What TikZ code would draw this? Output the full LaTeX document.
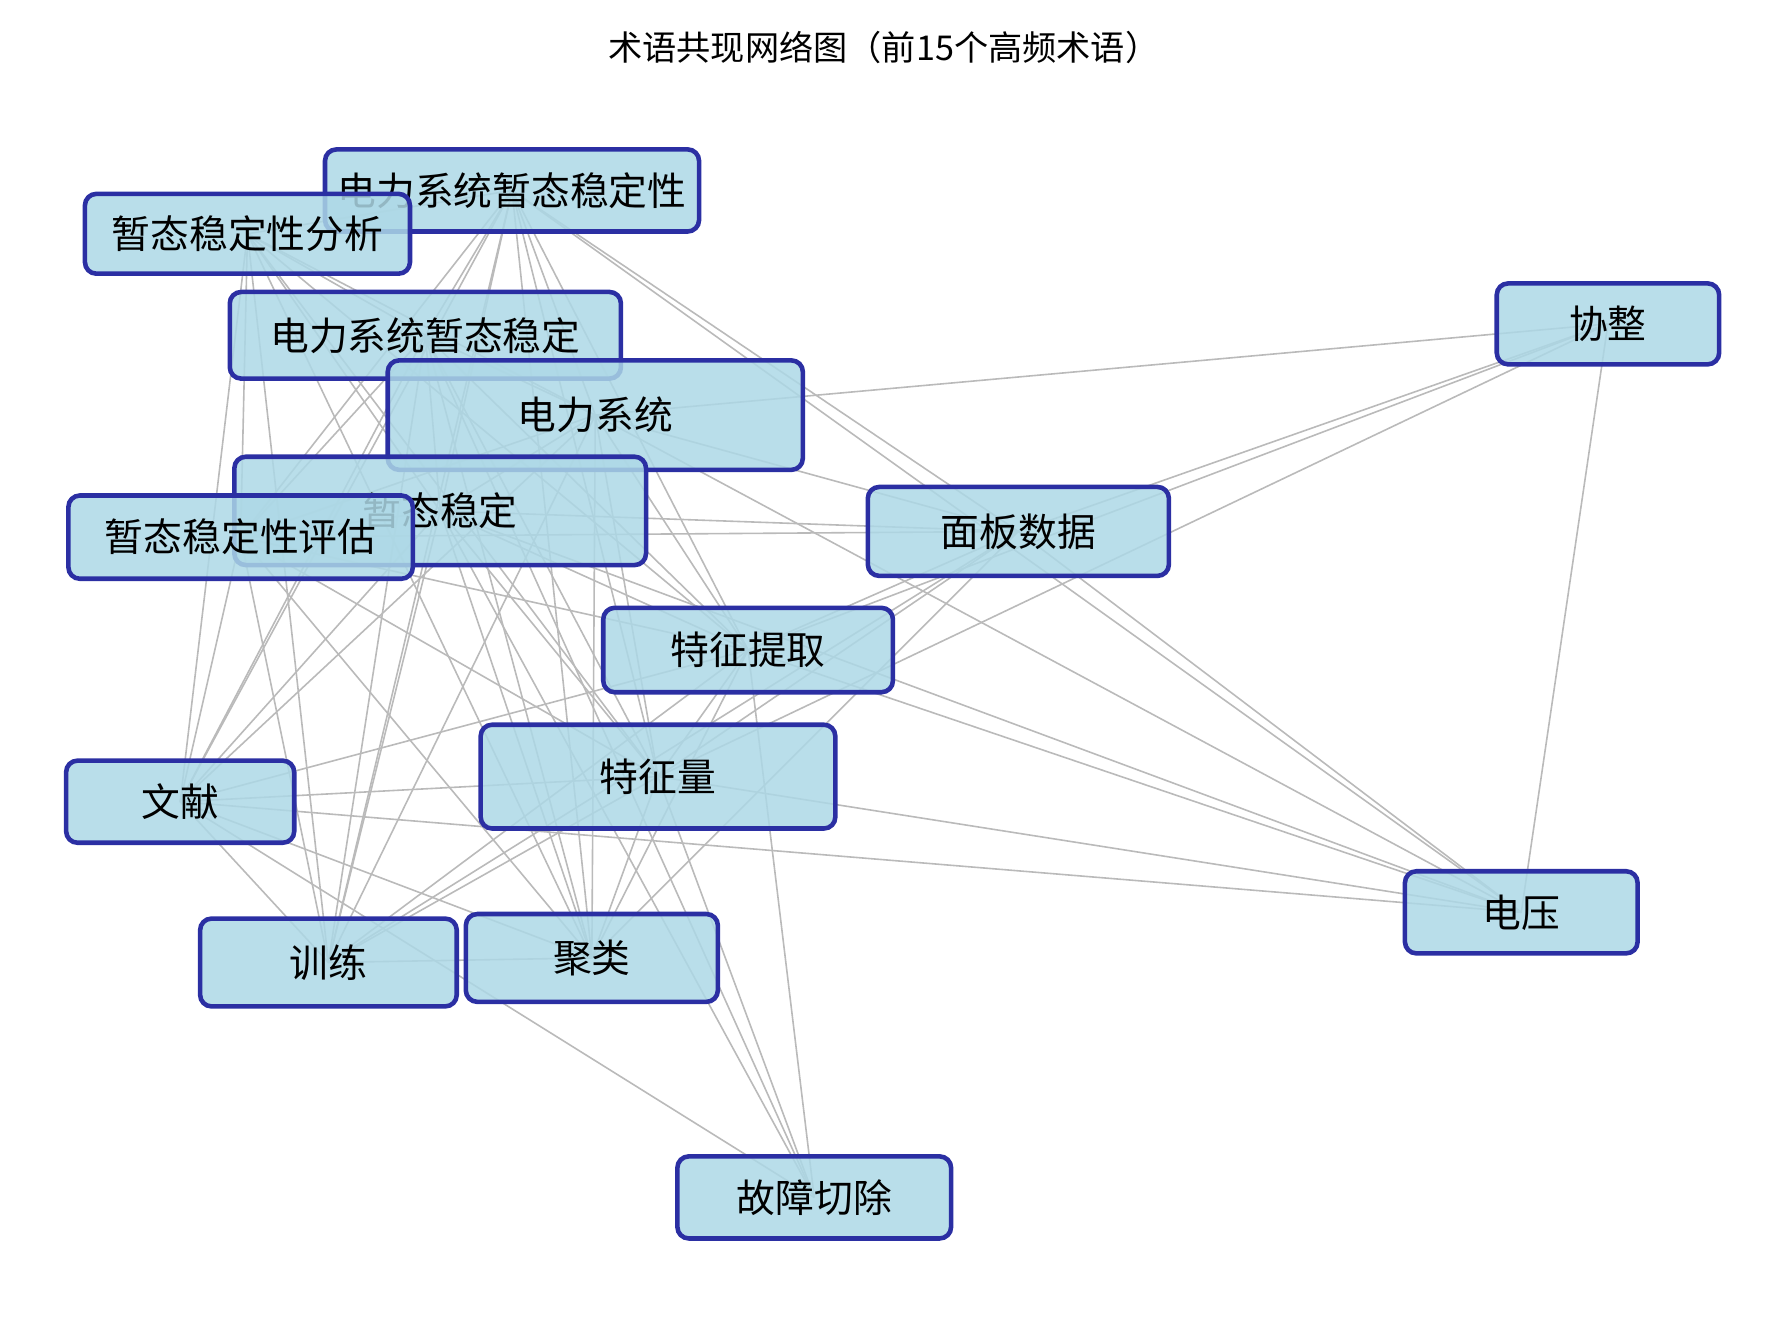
\documentclass[tikz,border=0pt]{standalone}
\usepackage{fontspec}
\setmainfont{Noto Sans CJK SC}
\begin{document}
\begin{tikzpicture}[x=0.5pt,y=-0.5pt,
  term/.style={draw=navyb,line width=2pt,fill=lblue,fill opacity=0.85,text opacity=1,rounded corners=5pt,font=\fontsize{17}{20}\selectfont,inner sep=0pt},
  edge/.style={draw=black!27,line width=0.7pt}]
\definecolor{navyb}{HTML}{2B2FA3}
\definecolor{lblue}{HTML}{ADD8E6}
\useasboundingbox (0,0) rectangle (1560,1163);
\node (title) at (775,42) {\fontsize{15}{18}\selectfont 术语共现网络图（前15个高频术语）};
\coordinate (A) at (449,167);
\coordinate (B) at (217,205);
\coordinate (C) at (373,294);
\coordinate (D) at (522,364);
\coordinate (E) at (386,448);
\coordinate (F) at (211,471);
\coordinate (G) at (893,466);
\coordinate (H) at (1410,284);
\coordinate (I) at (656,570);
\coordinate (J) at (577,681);
\coordinate (K) at (158,703);
\coordinate (L) at (288,844);
\coordinate (M) at (519,840);
\coordinate (N) at (1334,800);
\coordinate (O) at (714,1050);
\foreach \a/\b in {A/B,A/C,A/D,A/E,A/F,A/I,A/J,A/K,A/L,A/M,B/C,B/D,B/E,B/F,B/I,B/J,B/K,B/L,B/M,C/D,C/E,C/F,C/I,C/J,C/K,C/L,C/M,D/E,D/F,D/I,D/J,D/K,D/L,D/M,E/F,E/I,E/J,E/K,E/L,E/M,F/I,F/J,F/K,F/L,F/M,I/J,I/K,I/L,I/M,J/K,J/L,J/M,K/L,K/M,L/M,
  O/J,O/E,O/C,O/K,O/I,
  G/H,G/N,G/I,G/J,G/D,G/E,G/F,G/A,G/L,G/M,
  H/D,H/I,H/J,H/N,
  N/I,N/J,N/K,N/A,N/D,N/E}
  \draw[edge] (\a) -- (\b);
\node[term,minimum width=328pt*0.5,minimum height=72pt*0.5] (nA) at (A) {电力系统暂态稳定性};
\node[term,minimum width=285pt*0.5,minimum height=70pt*0.5] (nB) at (B) {暂态稳定性分析};
\node[term,minimum width=343pt*0.5,minimum height=76pt*0.5] (nC) at (C) {电力系统暂态稳定};
\node[term,minimum width=364pt*0.5,minimum height=96pt*0.5] (nD) at (D) {电力系统};
\node[term,minimum width=361pt*0.5,minimum height=95pt*0.5] (nE) at (E) {暂态稳定};
\node[term,minimum width=302pt*0.5,minimum height=73pt*0.5] (nF) at (F) {暂态稳定性评估};
\node[term,minimum width=264pt*0.5,minimum height=78pt*0.5] (nG) at (G) {面板数据};
\node[term,minimum width=195pt*0.5,minimum height=71pt*0.5] (nH) at (H) {协整};
\node[term,minimum width=254pt*0.5,minimum height=74pt*0.5] (nI) at (I) {特征提取};
\node[term,minimum width=311pt*0.5,minimum height=91pt*0.5] (nJ) at (J) {特征量};
\node[term,minimum width=200pt*0.5,minimum height=72pt*0.5] (nK) at (K) {文献};
\node[term,minimum width=225pt*0.5,minimum height=77pt*0.5] (nL) at (L) {训练};
\node[term,minimum width=221pt*0.5,minimum height=77pt*0.5] (nM) at (M) {聚类};
\node[term,minimum width=204pt*0.5,minimum height=72pt*0.5] (nN) at (N) {电压};
\node[term,minimum width=240pt*0.5,minimum height=72pt*0.5] (nO) at (O) {故障切除};
\end{tikzpicture}
\end{document}
